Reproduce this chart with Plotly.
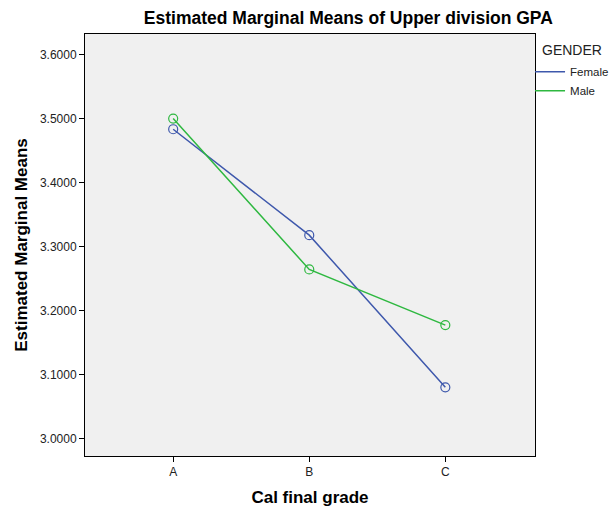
import plotly.graph_objects as go

categories = ["A", "B", "C"]
female = [3.4839, 3.3183, 3.0803]
male = [3.5006, 3.2647, 3.1777]
y_ticks = [3.0, 3.1, 3.2, 3.3, 3.4, 3.5, 3.6]

FONT = "Liberation Sans, Arial, sans-serif"
BLUE = "#3E58AC"
GREEN = "#2EB840"

fig = go.Figure()
for name, vals, col in [("Female", female, BLUE), ("Male", male, GREEN)]:
    fig.add_trace(go.Scatter(
        x=categories, y=vals, name=name, mode="lines+markers", showlegend=False,
        line=dict(color=col, width=1.5),
        marker=dict(symbol="circle-open", size=9, color=col, line=dict(width=1.2)),
    ))
for name, col in [("Female", BLUE), ("Male", GREEN)]:
    fig.add_trace(go.Scatter(
        x=[None], y=[None], name=name, mode="lines", showlegend=True,
        line=dict(color=col, width=1.5),
    ))

fig.update_layout(
    width=609, height=512,
    margin=dict(l=85, r=74, t=34, b=56, autoexpand=False),
    paper_bgcolor="white",
    plot_bgcolor="#F0F0F0",
    font=dict(family=FONT, color="#222222", size=12),
    title=dict(
        text="<b>Estimated Marginal Means of Upper division GPA</b>",
        x=0.572, xref="container", xanchor="center", y=0.965, yanchor="middle",
        font=dict(size=17.5, color="black", family=FONT),
    ),
    legend=dict(
        x=0.989, xanchor="left", y=0.945, yanchor="top",
        font=dict(size=11.5, color="#222222"),
        bgcolor="rgba(0,0,0,0)", tracegroupgap=0, itemwidth=30,
    ),
    showlegend=True,
    annotations=[dict(
        text="GENDER", x=1.0122, xref="paper", xanchor="left",
        y=0.962, yref="paper", yanchor="middle", showarrow=False,
        font=dict(size=14, color="#222222"),
    )],
)

fig.update_xaxes(
    type="category", range=[-0.648, 2.659],
    showgrid=False, zeroline=False,
    showline=True, linecolor="black", linewidth=1, mirror=True,
    ticks="outside", ticklen=5, tickcolor="black",
    tickfont=dict(size=12, color="#222222"),
    title=dict(text="<b>Cal final grade</b>", font=dict(size=17, color="black"), standoff=12),
)
fig.update_yaxes(
    range=[2.973, 3.6328],
    tickvals=y_ticks, ticktext=[f"{v:.4f}" for v in y_ticks],
    showgrid=False, zeroline=False,
    showline=True, linecolor="black", linewidth=1, mirror=True,
    ticks="outside", ticklen=5, tickcolor="black",
    tickfont=dict(size=12, color="#222222"),
    title=dict(text="<b>Estimated Marginal Means</b>", font=dict(size=17, color="black"), standoff=7),
)

fig.write_html("out.html", config={"displayModeBar": False},
               post_script="document.body.style.margin='0px';")
